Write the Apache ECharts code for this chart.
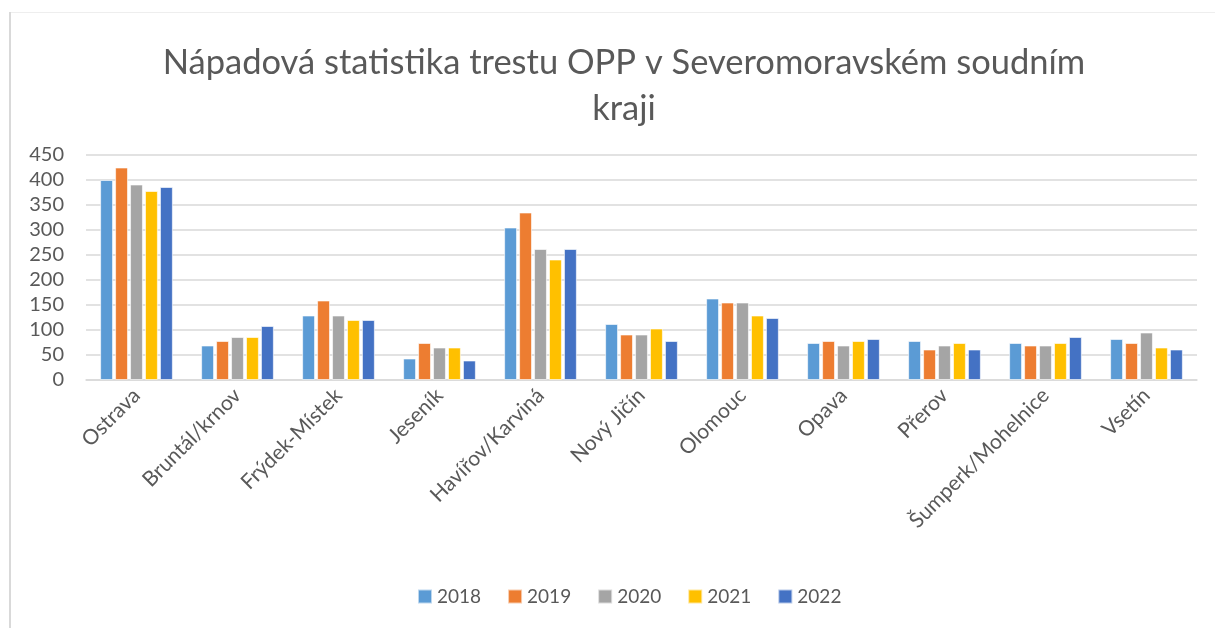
<!DOCTYPE html>
<html>
<head>
<meta charset="utf-8">
<script src="https://cdn.jsdelivr.net/npm/echarts@6/dist/echarts.min.js"></script>
<style>
html, body { margin: 0; padding: 0; background: #fff; }
#chart { width: 1215px; height: 628px; }
</style>
</head>
<body>
<div id="chart"></div>
<script>
var soudy = ['Ostrava', 'Bruntál/krnov', 'Frýdek-Místek', 'Jeseník', 'Havířov/Karviná',
    'Nový Jičín', 'Olomouc', 'Opava', 'Přerov', 'Šumperk/Mohelnice', 'Vsetín'];
var roky = ['2018', '2019', '2020', '2021', '2022'];
var barvy = ['#5b9bd5', '#ed7d31', '#a5a5a5', '#ffc000', '#4472c4'];

var v2018 = [400, 69, 129, 43, 305, 112, 163, 74, 78, 74, 82];
var v2019 = [425, 78, 159, 74, 335, 91, 155, 78, 61, 69, 74];
var v2020 = [391, 86, 129, 65, 262, 91, 155, 69, 69, 69, 95];
var v2021 = [378, 86, 120, 65, 241, 103, 129, 78, 74, 74, 65];
var v2022 = [386, 108, 120, 39, 262, 78, 124, 82, 61, 86, 61];
var hodnoty = [v2018, v2019, v2020, v2021, v2022];

var font = 'Lato, "Open Sans", sans-serif';
var chart = echarts.init(document.getElementById('chart'));

var series = roky.map(function (rok, i) {
    return {
        name: rok,
        type: 'bar',
        data: hodnoty[i],
        barGap: '16%',
        barCategoryGap: '28%',
        itemStyle: { color: barvy[i], borderColor: 'rgba(255,255,255,0.6)', borderWidth: 1 }
    };
});

chart.setOption({
    backgroundColor: '#fff',
    animation: false,
    // ramecek grafu (jen levy a horni okraj je videt)
    graphic: [
        { type: 'rect', shape: { x: 9, y: 12, width: 2, height: 616 }, style: { fill: '#d9d9d9' } },
        { type: 'rect', shape: { x: 11, y: 12, width: 1204, height: 1 }, style: { fill: '#eeeeee' } }
    ],
    title: {
        text: 'Nápadová statistika trestu OPP v Severomoravském soudním\nkraji',
        left: 619,
        textAlign: 'center',
        top: 35,
        textStyle: {
            fontFamily: font,
            fontSize: 34.5,
            fontWeight: 'normal',
            color: '#595959',
            lineHeight: 46
        }
    },
    legend: {
        bottom: 17,
        left: 412,
        itemWidth: 14,
        itemHeight: 14,
        itemGap: 26,
        icon: 'rect',
        textStyle: { fontFamily: font, fontSize: 19, color: '#595959' },
        data: roky
    },
    grid: { left: 86, right: 18, top: 155, bottom: 248 },
    xAxis: {
        type: 'category',
        data: soudy,
        axisLine: { lineStyle: { color: '#d9d9d9', width: 1.5 } },
        axisTick: { show: false },
        axisLabel: {
            rotate: 45,
            interval: 0,
            margin: 12,
            fontFamily: font,
            fontSize: 21,
            color: '#595959'
        }
    },
    yAxis: {
        type: 'value',
        min: 0,
        max: 450,
        interval: 50,
        axisLine: { show: false },
        axisTick: { show: false },
        splitLine: { lineStyle: { color: '#d9d9d9', width: 1.5 } },
        axisLabel: {
            margin: 22,
            fontFamily: font,
            fontSize: 20,
            color: '#595959'
        }
    },
    series: series
});
</script>
</body>
</html>
